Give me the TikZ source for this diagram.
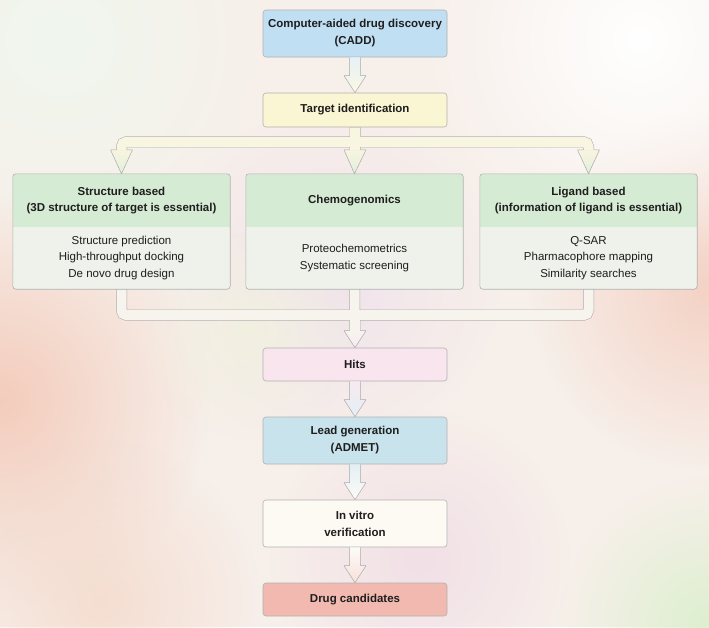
\documentclass[tikz,border=0pt]{standalone}
\usepackage{fontspec}
\setmainfont{Liberation Sans}
\usetikzlibrary{calc,fadings}
\definecolor{bgbase}{HTML}{F7EFEA}
\definecolor{bordc}{HTML}{B2B2B2}
\definecolor{arrc}{HTML}{AAAAAA}
\definecolor{txt}{HTML}{1E1E1E}
\definecolor{caddc}{HTML}{C0DFF2}
\definecolor{targc}{HTML}{FAF5D2}
\definecolor{hdrc}{HTML}{D6EBD4}
\definecolor{bdyc}{HTML}{EEF2EA}
\definecolor{hitsc}{HTML}{F8E5EE}
\definecolor{leadc}{HTML}{C8E3EC}
\definecolor{vitroc}{HTML}{FDFAF3}
\definecolor{drugc}{HTML}{F2B9B1}
\definecolor{tubetop}{HTML}{F8F5E0}
\definecolor{tubebot}{HTML}{F7F4EE}
\definecolor{greenlt}{HTML}{E0EFDB}
\definecolor{pinklt}{HTML}{F7EAF1}
\definecolor{bluelt}{HTML}{E6F1F7}
\definecolor{yellowlt}{HTML}{FAF8E2}
\definecolor{whitelt}{HTML}{FDFBF7}
\definecolor{salmonlt}{HTML}{F8E0DA}
\definecolor{leadlt}{HTML}{E3EFF3}
\tikzfading[name=fuzzy, inner color=transparent!0, outer color=transparent!100]
\newcommand\hollowarrow[4]{%
  \shadedraw[arrstyle, top color=#3, bottom color=#4]
    ($(#1)+(-5.5pt,0)$) -- ($(#2)+(-5.5pt,17pt)$) -- ($(#2)+(-11pt,17pt)$) -- (#2)
    -- ($(#2)+(11pt,17pt)$) -- ($(#2)+(5.5pt,17pt)$) -- ($(#1)+(5.5pt,0)$);}
\newcommand\hollowhead[4]{%
  \shadedraw[arrstyle, top color=#3, bottom color=#4]
    ($(#1)+(-11pt,0)$) -- (#2) -- ($(#1)+(11pt,0)$) -- cycle;}
\begin{document}
\begin{tikzpicture}[x=1pt,y=-1pt,
  box/.style={draw=bordc, line width=0.6pt, rounded corners=3pt, minimum width=184pt,
    align=center, font=\bfseries\fontsize{11.5}{17}\selectfont, text=txt, inner sep=0pt},
  hdr/.style={fill=hdrc, minimum width=217pt, minimum height=53pt, inner sep=0pt,
    align=center, font=\bfseries\fontsize{11.5}{16}\selectfont, text=txt},
  bdy/.style={fill=bdyc, minimum width=217pt, minimum height=62pt, inner sep=0pt,
    align=center, font=\fontsize{11.5}{16.3}\selectfont, text=txt},
  frame/.style={draw=bordc, line width=0.6pt, rounded corners=3pt},
  arrstyle/.style={draw=arrc, line width=0.5pt, line join=round},
  tubeout/.style={draw=arrc, line width=11pt, rounded corners=5pt},
  tubein/.style={line width=10pt, rounded corners=5pt},
  blob/.style={path fading=fuzzy}]
\useasboundingbox (0,0) rectangle (709,627);
% background
\begin{scope}
\clip (0,0) rectangle (709,627);
\fill[bgbase] (0,0) rectangle (709,627);
\fill[blob, fill={rgb,255:red,243;green,198;blue,180}, fill opacity=0.85] (0,400) circle (210pt);
\fill[blob, fill={rgb,255:red,244;green,205;blue,190}, fill opacity=0.85] (709,290) circle (180pt);
\fill[blob, fill={rgb,255:red,221;green,239;blue,207}] (709,627) circle (150pt);
\fill[blob, fill={rgb,255:red,240;green,247;blue,238}] (60,40) circle (220pt);
\fill[blob, fill=white] (640,40) circle (220pt);
\fill[blob, fill={rgb,255:red,238;green,224;blue,236}, fill opacity=0.8] (330,280) circle (170pt);
\fill[blob, fill={rgb,255:red,240;green,220;blue,230}, fill opacity=0.8] (420,560) circle (150pt);
\fill[blob, fill={rgb,255:red,241;green,242;blue,222}, fill opacity=0.8] (250,330) circle (110pt);
\fill[blob, fill={rgb,255:red,244;green,214;blue,198}, fill opacity=0.7] (100,600) circle (160pt);
\end{scope}
% main boxes
\node[box, fill=caddc, minimum height=47pt] (cadd) at (355,33.5) {Computer-aided drug discovery\\(CADD)};
\node[box, fill=targc, minimum height=34pt] (target) at (355,110) {Target identification};
\node[box, fill=hitsc, minimum height=33pt] (hits) at (355,364.5) {Hits};
\node[box, fill=leadc, minimum height=47pt] (lead) at (355,440.5) {Lead generation\\(ADMET)};
\node[box, fill=vitroc, minimum height=47pt] (vitro) at (355,523.5) {In vitro\\verification};
\node[box, fill=drugc, minimum height=33pt] (drug) at (355,599.5) {Drug candidates};
% three columns
\begin{scope}
\clip[rounded corners=3pt] (13,174) rectangle (230,289);
\node[hdr] (sh) at (121.5,200.5) {Structure based\\(3D structure of target is essential)};
\node[bdy] (sb) at (121.5,258) {Structure prediction\\High-throughput docking\\De novo drug design};
\end{scope}
\draw[frame] (sh.north west) rectangle (sb.south east);
\begin{scope}
\clip[rounded corners=3pt] (246,174) rectangle (463,289);
\node[hdr] (ch) at (354.5,200.5) {Chemogenomics};
\node[bdy] (cb) at (354.5,258) {Proteochemometrics\\Systematic screening};
\end{scope}
\draw[frame] (ch.north west) rectangle (cb.south east);
\begin{scope}
\clip[rounded corners=3pt] (480,174) rectangle (697,289);
\node[hdr] (lh) at (588.5,200.5) {Ligand based\\(information of ligand is essential)};
\node[bdy] (lb) at (588.5,258) {Q-SAR\\Pharmacophore mapping\\Similarity searches};
\end{scope}
\draw[frame] (lh.north west) rectangle (lb.south east);
% top branching tube
\coordinate (bL) at ($(sh.north)+(0,24pt)$);
\coordinate (bC) at ($(target.south |- sh.north)+(0,24pt)$);
\coordinate (bR) at ($(lh.north)+(0,24pt)$);
\draw[tubeout] (target.south) -- (bC) (bL) -- ++(0,8pt) -| (bR);
\hollowhead{bL}{sh.north}{tubetop}{greenlt}
\hollowhead{bC}{ch.north}{tubetop}{greenlt}
\hollowhead{bR}{lh.north}{tubetop}{greenlt}
\draw[tubein, draw=tubetop] ($(target.south)+(0,-0.4pt)$) -- ($(bC)+(0,-0.7pt)$)
  ($(bL)+(0,-0.7pt)$) -- ++(0,8.7pt) -| ($(bR)+(0,-0.7pt)$);
% bottom merging tube
\coordinate (hC) at ($(hits.north)+(0,17pt)$);
\draw[tubeout] (sb.south) -- ++(0,-26pt) -| (lb.south) (cb.south) -- (hC);
\hollowhead{hC}{hits.north}{tubebot}{pinklt}
\draw[tubein, draw=tubebot] ($(sb.south)+(0,-0.4pt)$) -- ++(0,-25.6pt) -| ($(lb.south)+(0,-0.4pt)$)
  ($(cb.south)+(0,-0.4pt)$) -- ($(hC)+(0,-0.7pt)$);
% straight arrows
\hollowarrow{cadd.south}{target.north}{bluelt}{yellowlt}
\hollowarrow{hits.south}{lead.north}{pinklt}{leadlt}
\hollowarrow{lead.south}{vitro.north}{leadlt}{whitelt}
\hollowarrow{vitro.south}{drug.north}{whitelt}{salmonlt}
\end{tikzpicture}
\end{document}
